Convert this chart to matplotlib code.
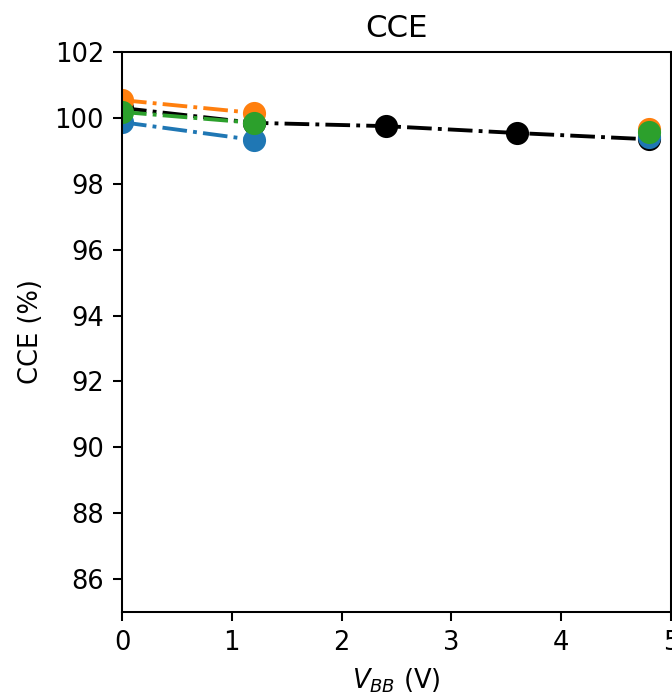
import numpy as np
import matplotlib

matplotlib.use("Agg")
import matplotlib.pyplot as plt

# bias voltages (V)
v_bb = [0.0, 1.2, 2.4, 3.6, 4.8]

# CCE (%) per series, nan where not measured
cce_black = [100.3, 99.85, 99.75, 99.54, 99.35]
cce_blue = [99.87, 99.33, np.nan, np.nan, 99.42]
cce_orange = [100.54, 100.15, np.nan, np.nan, 99.66]
cce_green = [100.18, 99.85, np.nan, np.nan, 99.57]

DPI = 185
fig = plt.figure(figsize=(672 / DPI, 696 / DPI), dpi=DPI)
ax = fig.add_axes([122 / 672, 84 / 696, 549 / 672, 560 / 696])

ax.plot(v_bb, cce_black, "-.o", color="black", lw=1.5, ms=8)
ax.plot(v_bb, cce_blue, "-.o", color="tab:blue", lw=1.5, ms=8)
ax.plot(v_bb, cce_orange, "-.o", color="tab:orange", lw=1.5, ms=8)
ax.plot(v_bb, cce_green, "-.o", color="tab:green", lw=1.5, ms=8)

ax.set_xlim(0, 5)
ax.set_ylim(85, 102)
ax.set_yticks(np.arange(86, 103, 2))
ax.set_xlabel(r"$V_{BB}$ (V)")
ax.set_ylabel("CCE (%)")
ax.set_title("CCE")

fig.savefig("out.png", dpi=DPI)
plt.close(fig)
